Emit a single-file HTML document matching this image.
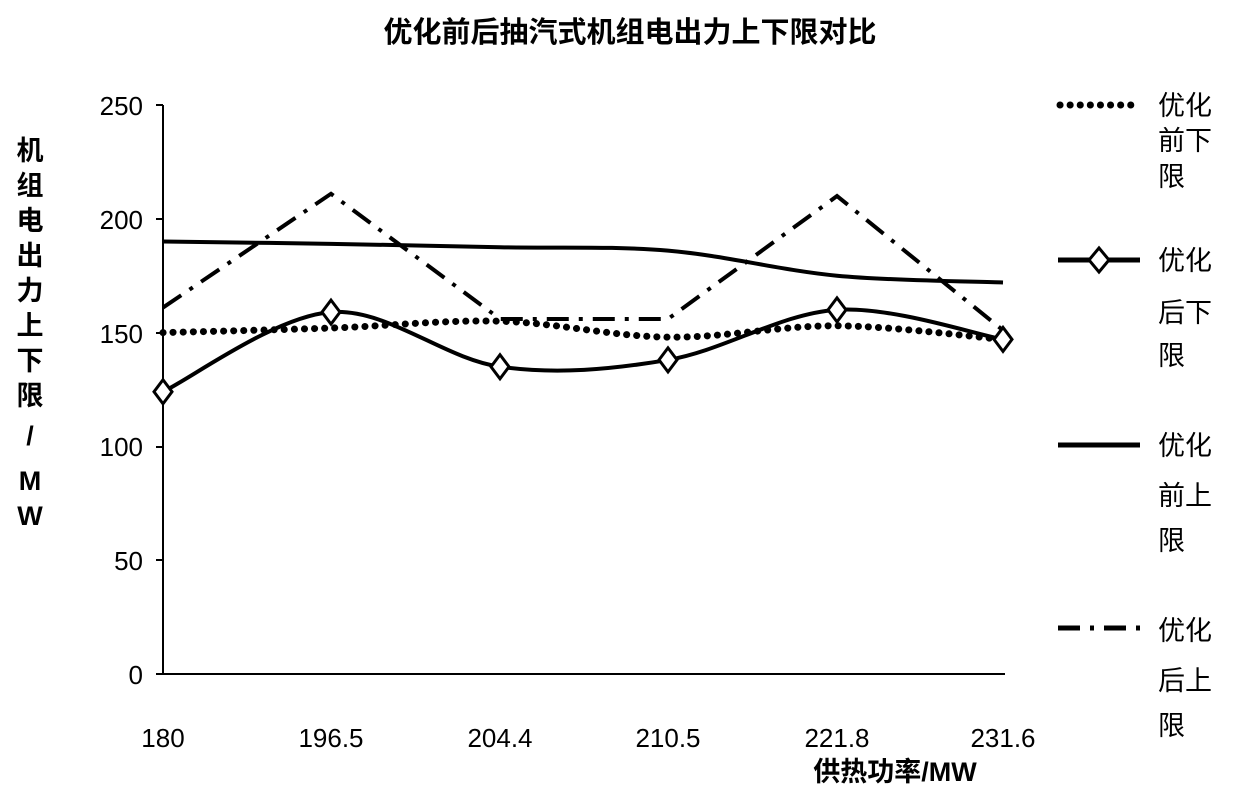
<!DOCTYPE html>
<html><head><meta charset="utf-8"><style>
body{margin:0;background:#fff}
svg text{font-family:"Liberation Sans","Noto Sans CJK SC",sans-serif;fill:#000}
.b{font-weight:bold}
</style></head><body>
<svg id="s" width="1240" height="794" xmlns="http://www.w3.org/2000/svg">
<text class="b" x="630" y="42" font-size="29" text-anchor="middle">优化前后抽汽式机组电出力上下限对比</text>
<g font-size="26" text-anchor="end">
<text x="143" y="115">250</text><text x="143" y="229">200</text><text x="143" y="343">150</text>
<text x="143" y="456">100</text><text x="143" y="570">50</text><text x="143" y="684">0</text>
</g>
<g font-size="26" text-anchor="middle">
<text x="163" y="747">180</text><text x="331" y="747">196.5</text><text x="500" y="747">204.4</text>
<text x="668" y="747">210.5</text><text x="837" y="747">221.8</text><text x="1003" y="747">231.6</text>
</g>
<text class="b" x="895" y="781" font-size="27" text-anchor="middle">供热功率/MW</text>
<g class="b" font-size="27" text-anchor="middle">
<text x="30" y="160">机</text><text x="30" y="195">组</text><text x="30" y="230">电</text><text x="30" y="265">出</text>
<text x="30" y="300">力</text><text x="30" y="335">上</text><text x="30" y="370">下</text><text x="30" y="405">限</text>
<text x="30" y="445">/</text><text x="30" y="490">M</text><text x="30" y="525">W</text>
</g>
<g stroke="#000" stroke-width="2" fill="none">
<line x1="163" y1="105" x2="163" y2="674"/><line x1="163" y1="674" x2="1005" y2="674"/>
<line x1="156" y1="105" x2="163" y2="105"/><line x1="156" y1="219" x2="163" y2="219"/><line x1="156" y1="333" x2="163" y2="333"/>
<line x1="156" y1="447" x2="163" y2="447"/><line x1="156" y1="560" x2="163" y2="560"/><line x1="156" y1="674" x2="163" y2="674"/>
</g>
<g id="series" fill="none" stroke="#000"></g>
<g font-size="27">
<text x="1158" y="115">优化</text><text x="1158" y="150">前下</text><text x="1158" y="186">限</text>
<text x="1158" y="270">优化</text><text x="1158" y="322">后下</text><text x="1158" y="365">限</text>
<text x="1158" y="455">优化</text><text x="1158" y="505">前上</text><text x="1158" y="550">限</text>
<text x="1158" y="640">优化</text><text x="1158" y="690">后上</text><text x="1158" y="735">限</text>
</g>
<g stroke="#000" fill="none">
<line x1="1060" y1="105" x2="1140" y2="105" stroke-width="7" stroke-dasharray="0.1,10" stroke-linecap="round"/>
<line x1="1058" y1="260" x2="1140" y2="260" stroke-width="5"/>
<path d="M1099 248 L1109 260 L1099 272 L1089 260 Z" stroke-width="3" fill="#fff"/>
<line x1="1058" y1="445" x2="1140" y2="445" stroke-width="5"/>
<line x1="1058" y1="628" x2="1140" y2="628" stroke-width="5" stroke-dasharray="22,10,4,10"/>
</g>
</svg>
<script>
var X=[163,331,500,668,837,1003];
function y(v){return 674-v*2.276;}
function pts(a){return a.map(function(v,i){return [X[i],y(v)];});}
function line(p){return "M"+p.map(function(q){return q.join(" ")}).join(" L");}
function smooth(p){var d="M"+p[0][0]+" "+p[0][1];for(var i=0;i<p.length-1;i++){var p0=p[i-1]||p[i],p1=p[i],p2=p[i+1],p3=p[i+2]||p2;var t=6;
d+=" C"+(p1[0]+(p2[0]-p0[0])/t)+" "+(p1[1]+(p2[1]-p0[1])/t)+" "+(p2[0]-(p3[0]-p1[0])/t)+" "+(p2[1]-(p3[1]-p1[1])/t)+" "+p2[0]+" "+p2[1];}return d;}
var g=document.getElementById("series"),ns="http://www.w3.org/2000/svg";
function add(d,attrs){var e=document.createElementNS(ns,"path");e.setAttribute("d",d);for(var k in attrs)e.setAttribute(k,attrs[k]);g.appendChild(e);}
add(smooth(pts([150,152,155,148,153,147])),{"stroke-width":7,"stroke-dasharray":"0.1,10","stroke-linecap":"round"});
add(smooth(pts([190,189,187.5,186,175,172])),{"stroke-width":4});
add(line(pts([161,211,156,156,210,151])),{"stroke-width":4,"stroke-dasharray":"22,10,4,10"});
var lp=pts([124,159,135,138,160,147]);
add(smooth(lp),{"stroke-width":4});
lp.forEach(function(q){add("M"+q[0]+" "+(q[1]-12)+" L"+(q[0]+9)+" "+q[1]+" L"+q[0]+" "+(q[1]+12)+" L"+(q[0]-9)+" "+q[1]+" Z",{"stroke-width":3,"fill":"#fff"});});
</script>
</body></html>
